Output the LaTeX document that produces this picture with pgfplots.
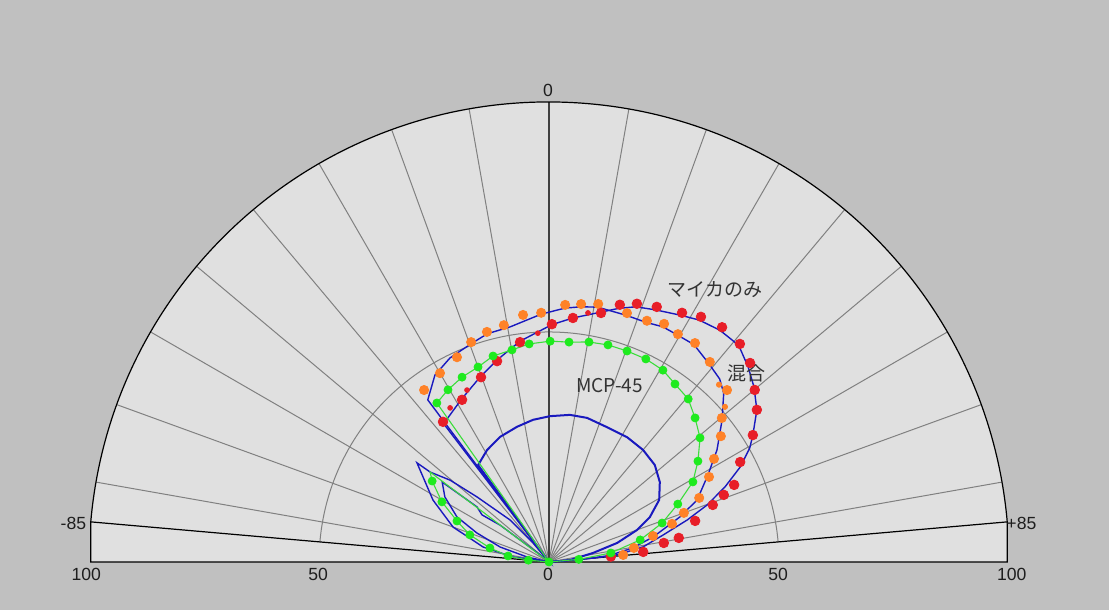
\documentclass[border=0pt]{standalone}
\usepackage{pgfplots}
\pgfplotsset{compat=1.18}
\usepackage{pgfplotstable}
\usepackage{fontspec}
\setmainfont{Liberation Sans}
\newfontfamily\jp{Noto Sans CJK JP}

\definecolor{bgout}{RGB}{192,192,192}
\definecolor{bgin}{RGB}{224,224,224}
\definecolor{gridc}{RGB}{128,128,128}
\definecolor{lineblue}{RGB}{25,25,190}
\definecolor{dotorange}{RGB}{255,130,40}
\definecolor{dotred}{RGB}{232,30,40}
\definecolor{dotgreen}{RGB}{30,235,30}
\definecolor{linegreen}{RGB}{60,220,60}
\definecolor{txt}{RGB}{30,30,30}

% angle a measured from the vertical (deg), radius r
\pgfplotsset{
  table/pol/.style={
    /pgfplots/table/x expr={\thisrow{r}*sin(\thisrow{a})},
    /pgfplots/table/y expr={\thisrow{r}*cos(\thisrow{a})}},
  dots/.style 2 args={only marks, mark=*, mark size=#1, color=#2},
}

% green (MCP-45) measured points
\pgfplotstableread{
a r
-85 0
-85 4.5
-81.7 9.0
-76.7 13.2
-71.1 18.2
-66.0 21.9
-60.7 26.7
-55.3 30.9
-35.2 42.3
-30.4 43.4
-25.2 44.4
-20.0 45.1
-15.2 46.4
-9.9 46.8
-5.2 47.6
0.3 48.0
5.2 48.0
10.3 48.6
15.2 48.9
20.3 48.9
25.5 48.9
30.7 48.5
35.3 47.4
40.5 46.6
45.4 44.6
50.6 42.5
55.9 39.1
60.9 35.8
65.8 30.7
71.0 26.0
76.4 20.4
81.7 13.6
85 6.5
}\gdots

\pgfplotstableread{
a r
-85 0
-85 4.5
-81.7 9.0
-76.7 13.2
-71.1 18.2
-66.0 21.9
-60.7 26.7
-55.3 30.9
-52.9 32.4
-45 0
-35.2 42.3
-30.4 43.4
-25.2 44.4
-20.0 45.1
-15.2 46.4
-9.9 46.8
-5.2 47.6
0.3 48.0
5.2 48.0
10.3 48.6
15.2 48.9
20.3 48.9
25.5 48.9
30.7 48.5
35.3 47.4
40.5 46.6
45.4 44.6
50.6 42.5
55.9 39.1
60.9 35.8
65.8 30.7
71.0 26.0
76.4 20.4
81.7 13.6
85 6.5
85 0
}\gline

% orange points
\pgfplotstableread{
a r
-36.0 46.2
-30.0 47.4
-24.2 48.8
-19.5 50.7
-15.1 51.8
-10.8 52.4
-6.0 54.0
-1.8 54.2
3.6 56.0
7.1 56.5
10.8 57.1
17.4 56.7
22.1 56.6
25.8 57.5
29.5 56.9
33.7 57.2
38.8 55.8
46.0 53.8
50.2 48.9
53.8 46.3
58.0 42.3
62.0 39.4
66.9 35.5
70.0 31.2
72.8 28.0
76.0 23.3
80.6 18.7
84.6 16.2
}\odots

\pgfplotstableread{
a r
43.8 53.4
48.6 51.0
}\osmall

% red points
\pgfplotstableread{
a r
-37.1 38.2
-28.2 40.0
-20.2 42.8
-14.5 45.1
-7.5 48.2
0.7 51.7
5.6 53.3
11.8 55.3
15.4 58.0
18.8 59.3
22.9 60.2
28.1 61.4
31.8 62.7
36.4 63.4
41.2 63.0
45.3 61.5
50.1 58.3
53.8 56.0
58.1 52.2
62.4 46.9
67.4 43.6
69.0 40.7
70.8 37.7
74.3 33.0
79.5 28.7
80.6 25.3
83.9 20.6
85 13.5
}\rdots

\pgfplotstableread{
a r
-32.7 39.8
-25.5 41.4
-2.8 49.8
8.9 54.8
}\rsmall

% blue curve following the orange points, with the outer side lobe
\pgfplotstableread{
a r
-85 0
-82 7.9
-77.2 14.7
-70 22.2
-61.9 28.6
-53.1 35.9
-52.9 32.4
-50.4 27.9
-47.9 21.1
-42.9 12.5
-40 5.4
-38 0
-36.8 44.0
-31.4 47.6
-25.9 49.3
-19.5 50.4
-15.1 51.4
-9.4 51.8
-1.8 53.9
3.6 55.3
7.1 55.9
10.8 56.4
17.4 56.2
22.1 56.2
25.8 56.8
29.5 56.7
33.7 56.8
38.8 55.4
43.0 54.4
46.0 52.8
50.6 48.7
56.3 43.9
61.3 39.4
67.3 34.9
71.0 30.1
76.5 23.3
80.6 18.3
84 13
85 8
85 0
}\bone

% blue curve following the red points, with the inner side lobe
\pgfplotstableread{
a r
-85 0
-77.2 4.9
-73 11.1
-68.1 16.9
-63.9 22.3
-58 26.7
-53.2 29.0
-52.6 19.7
-54.9 17.8
-53 13.3
-50 1.7
-45 0
-37.3 37.8
-28.2 40.2
-20.2 43.0
-14.5 45.3
-7.5 48.4
0.7 51.6
5.6 53.3
11.8 55.5
15.4 57.2
18.8 58.6
22.9 59.5
28.1 60.8
31.8 61.9
36.4 62.6
41.2 62.6
45.6 60.6
49.5 58.6
53.8 56.0
58.1 52.2
60.4 50.2
63.6 46.4
66.9 41.6
70.2 36.5
73.1 31.4
76.7 25.5
80.9 20.7
84 15
85 10
85 0
}\btwo

% inner blue lobe
\pgfplotstableread{
a r
-36.2 0
-36.2 26.1
-29.0 27.8
-21.4 29.2
-13.3 30.2
-6.4 31.1
0.4 31.7
8.1 32.3
14.8 32.4
23.3 31.9
32.0 32.0
40.0 31.8
47.5 31.2
54.2 29.7
60.6 27.5
66.0 24.0
70.0 20.4
74.4 15.4
78.4 9.8
85 4.5
85 0
}\bthree

\begin{document}
\begin{tikzpicture}
\begin{axis}[
  x=2.3pt, y=2.3pt,
  xmin=-119.35, xmax=121.74,
  ymin=-10.43, ymax=122.17,
  hide axis,
  clip=false,
  ]
% background and polar frame
\fill[bgout] (axis cs:-119.35,-10.43) rectangle (axis cs:121.74,122.17);
\fill[bgin] (axis cs:{-100*sin(85)},0) -- (axis cs:{-100*sin(85)},{100*cos(85)})
  arc[start angle=175, end angle=5, radius=230pt] -- (axis cs:{100*sin(85)},0) -- cycle;
\pgfplotsinvokeforeach{-80,-70,...,80}{
  \draw[gridc, line width=0.5pt] (axis cs:0,0) -- (axis cs:{100*sin(#1)},{100*cos(#1)});
}
\draw[gridc, line width=0.5pt] (axis cs:{-50*sin(85)},{50*cos(85)})
  arc[start angle=175, end angle=5, radius=115pt];
\draw[black!75, line width=0.8pt] (axis cs:0,0) -- (axis cs:0,100);
\draw[black, line width=0.6pt] (axis cs:0,0) -- (axis cs:{-100*sin(85)},{100*cos(85)});
\draw[black, line width=0.6pt] (axis cs:0,0) -- (axis cs:{100*sin(85)},{100*cos(85)});
\draw[black, line width=0.6pt] (axis cs:{-100*sin(85)},0) -- (axis cs:{-100*sin(85)},{100*cos(85)})
  arc[start angle=175, end angle=5, radius=230pt] -- (axis cs:{100*sin(85)},0) -- cycle;

% curves
\addplot[lineblue, line width=0.7pt] table[pol] {\bone};
\addplot[lineblue, line width=0.7pt] table[pol] {\btwo};
\addplot[lineblue, line width=1pt] table[pol] {\bthree};
\addplot[linegreen, line width=0.55pt] table[pol] {\gline};

% points
\addplot[dots={2.3pt}{dotorange}] table[pol] {\odots};
\addplot[dots={1.3pt}{dotorange}] table[pol] {\osmall};
\addplot[dots={2.4pt}{dotred}] table[pol] {\rdots};
\addplot[dots={1.2pt}{dotred}] table[pol] {\rsmall};
\addplot[dots={2.0pt}{dotgreen}] table[pol] {\gdots};

% scale labels
\begin{scope}[every node/.style={text=txt, font=\fontsize{8.8}{10}\selectfont, inner sep=0pt}]
\node at (axis cs:-0.2,102.4) {0};
\node at (axis cs:-103.4,8.3) {-85};
\node at (axis cs:102.7,8.3) {+85};
\node at (axis cs:-100.6,-2.8) {100};
\node at (axis cs:-50.2,-2.8) {50};
\node at (axis cs:-0.2,-2.8) {0};
\node at (axis cs:49.8,-2.8) {50};
\node at (axis cs:100.6,-2.8) {100};
\end{scope}
\begin{scope}[every node/.style={text=black!80, font=\jp\fontsize{9.5}{11}\selectfont, inner sep=0pt}]
\node at (axis cs:36.1,59.3) {マイカのみ};
\node at (axis cs:42.9,41.0) {混合};
\node at (axis cs:13.2,38.4) {MCP-45};
\end{scope}
\end{axis}
\end{tikzpicture}
\end{document}
